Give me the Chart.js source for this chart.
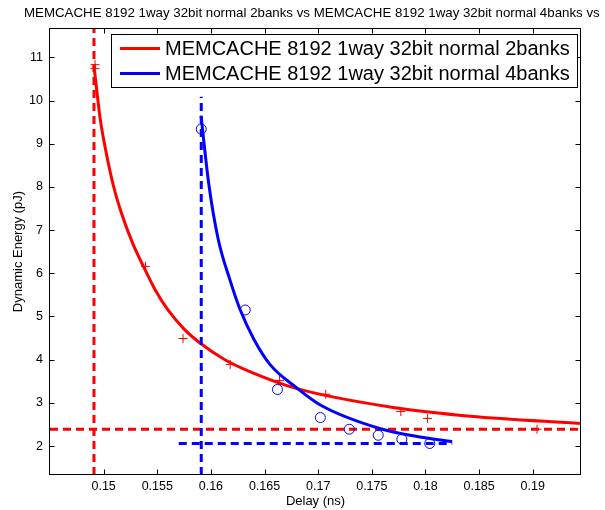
<!DOCTYPE html>
<html>
<head>
<meta charset="utf-8">
<script src="https://cdn.jsdelivr.net/npm/chart.js@4/dist/chart.umd.min.js"></script>
<style>
  html, body { margin: 0; padding: 0; background: #fff; }
  canvas { display: block; }
</style>
</head>
<body>
<canvas id="energychart" width="605" height="510"></canvas>
<script>
var titleText = "MEMCACHE 8192 1way 32bit normal 2banks vs MEMCACHE 8192 1way 32bit normal 4banks vs";
var seriesNames = ["MEMCACHE 8192 1way 32bit normal 2banks", "MEMCACHE 8192 1way 32bit normal 4banks"];
var xLabel = "Delay (ns)";
var yLabel = "Dynamic Energy (pJ)";

// measured points
var redDelay  = [0.1492, 0.1492, 0.1539, 0.1574, 0.1618, 0.1664, 0.1707, 0.1777, 0.1802, 0.1904];
var redEnergy = [10.83, 10.74, 6.16, 4.49, 3.89, 3.52, 3.20, 2.80, 2.64, 2.39];
var blueDelay  = [0.1591, 0.1632, 0.1662, 0.1702, 0.1729, 0.1756, 0.1778, 0.1804];
var blueEnergy = [9.34, 5.15, 3.31, 2.66, 2.39, 2.25, 2.16, 2.06];

// fitted curves
var redFitDelay  = [0.1491, 0.14969, 0.15025, 0.15093, 0.15172, 0.1527, 0.15373, 0.1548, 0.15591, 0.15746, 0.15902, 0.1613, 0.16368, 0.16803, 0.17736, 0.18419, 0.19454];
var redFitEnergy = [10.80, 9.56, 8.78, 8.01, 7.35, 6.70, 6.15, 5.62, 5.18, 4.72, 4.38, 4.00, 3.72, 3.33, 2.88, 2.69, 2.52];
var blueFitDelay  = [0.15908, 0.15979, 0.16067, 0.16181, 0.16274, 0.16399, 0.16554, 0.16788, 0.1702, 0.1758, 0.17922, 0.18249];
var blueFitEnergy = [9.65, 8.09, 6.80, 5.82, 5.15, 4.48, 3.88, 3.37, 2.95, 2.40, 2.22, 2.10];

// guide lines (min delay / min energy)
var redGuideDelay = 0.1491, redGuideEnergy = 2.39;
var blueGuideDelay = 0.1591, blueGuideEnergy = 2.06, blueGuideTop = 10.09;
var blueGuideLeft = 0.1570, blueGuideRight = 0.1825;

var xTicks = [0.15, 0.155, 0.16, 0.165, 0.17, 0.175, 0.18, 0.185, 0.19];
var yTicks = [2, 3, 4, 5, 6, 7, 8, 9, 10, 11];
var xMin = 0.145, xMax = 0.1945, yMin = 1.33, yMax = 11.68;

var fontFamily = "'Liberation Sans', Arial, Helvetica, sans-serif";

function toPoints(xs, ys) {
    return xs.map(function (x, i) { return { x: x, y: ys[i] }; });
}

function lineSet(label, pts, color, order, dash) {
    return {
        label: label,
        data: pts,
        showLine: true,
        borderColor: color,
        backgroundColor: color,
        borderWidth: 3,
        borderDash: dash || [],
        pointRadius: 0,
        fill: false,
        cubicInterpolationMode: dash ? 'default' : 'monotone',
        tension: 0,
        order: order
    };
}

function markerSet(pts, color, style, radius, order) {
    return {
        data: pts,
        showLine: false,
        borderColor: color,
        backgroundColor: 'rgba(0,0,0,0)',
        borderWidth: 1,
        pointStyle: style,
        pointRadius: radius,
        order: order
    };
}

var frame = {
    id: 'frame',
    afterDatasetsDraw: function (chart) {
        var ctx = chart.ctx, a = chart.chartArea;
        var l = Math.round(a.left) - 0.5, r = Math.round(a.right) - 0.5;
        var t = Math.round(a.top) + 0.5, b = Math.round(a.bottom) - 0.5;
        ctx.save();
        ctx.strokeStyle = '#000';
        ctx.lineWidth = 1;
        ctx.strokeRect(l, t, r - l, b - t);
        ctx.beginPath();
        chart.scales.x.ticks.forEach(function (tk) {
            var px = Math.round(chart.scales.x.getPixelForValue(tk.value)) + 0.5;
            ctx.moveTo(px, b); ctx.lineTo(px, b - 5);
            ctx.moveTo(px, t); ctx.lineTo(px, t + 5);
        });
        chart.scales.y.ticks.forEach(function (tk) {
            var py = Math.round(chart.scales.y.getPixelForValue(tk.value)) + 0.5;
            ctx.moveTo(l, py); ctx.lineTo(l + 5, py);
            ctx.moveTo(r, py); ctx.lineTo(r - 5, py);
        });
        ctx.stroke();

        // legend box
        var colors = [chart.data.datasets[0].borderColor, chart.data.datasets[1].borderColor];
        ctx.fillStyle = '#fff';
        ctx.fillRect(111.5, 34.5, 466, 53);
        ctx.strokeRect(111.5, 34.5, 466, 53);
        ctx.font = '20px ' + fontFamily;
        ctx.textBaseline = 'middle';
        ctx.textAlign = 'left';
        [48.5, 73.5].forEach(function (y, i) {
            ctx.strokeStyle = colors[i];
            ctx.lineWidth = 3;
            ctx.beginPath();
            ctx.moveTo(120, y); ctx.lineTo(160, y);
            ctx.stroke();
            ctx.fillStyle = '#000';
            ctx.fillText(chart.data.datasets[i].label, 165, y + 1);
        });

        // title and axis labels
        ctx.fillStyle = '#000';
        ctx.font = '13.3px ' + fontFamily;
        ctx.textBaseline = 'alphabetic';
        ctx.fillText(titleText, 24, 17);
        ctx.font = '13px ' + fontFamily;
        ctx.textAlign = 'center';
        ctx.textBaseline = 'middle';
        ctx.fillText(xLabel, (a.left + a.right) / 2, 501);
        ctx.translate(18.5, (a.top + a.bottom) / 2);
        ctx.rotate(-Math.PI / 2);
        ctx.fillText(yLabel, 0, 0);
        ctx.restore();
    }
};

new Chart("energychart", {
    type: "scatter",
    data: {
        datasets: [
            lineSet(seriesNames[0], toPoints(redFitDelay, redFitEnergy), "#ff0000", 5),
            lineSet(seriesNames[1], toPoints(blueFitDelay, blueFitEnergy), "#0000ff", 1),
            markerSet(toPoints(redDelay, redEnergy), "#ff0000", "cross", 4.5, 6),
            markerSet(toPoints(blueDelay, blueEnergy), "#0000ff", "circle", 5, 3),
            lineSet("", toPoints([redGuideDelay, redGuideDelay], [yMin, yMax]), "#ff0000", 4, [8, 5]),
            lineSet("", toPoints([xMin, xMax], [redGuideEnergy, redGuideEnergy]), "#ff0000", 4, [8, 5]),
            lineSet("", toPoints([blueGuideDelay, blueGuideDelay], [yMin, blueGuideTop]), "#0000ff", 2, [8, 5]),
            lineSet("", toPoints([blueGuideLeft, blueGuideRight], [blueGuideEnergy, blueGuideEnergy]), "#0000ff", 2, [8, 5])
        ]
    },
    options: {
        responsive: false,
        animation: false,
        devicePixelRatio: 1,
        events: [],
        layout: { padding: { top: 28, right: 24, left: 0, bottom: 0 } },
        plugins: {
            legend: { display: false },
            tooltip: { enabled: false },
            title: { display: false }
        },
        scales: {
            x: {
                type: "linear",
                min: xMin,
                max: xMax,
                grid: { display: false, drawTicks: false },
                border: { display: false },
                ticks: {
                    color: "#000",
                    font: { family: fontFamily, size: 12.5 },
                    padding: 4,
                    autoSkip: false,
                    maxRotation: 0,
                    callback: function (v) { return String(v); }
                },
                afterBuildTicks: function (s) { s.ticks = xTicks.map(function (v) { return { value: v }; }); },
                afterFit: function (s) { s.height = 35; }
            },
            y: {
                type: "linear",
                min: yMin,
                max: yMax,
                grid: { display: false, drawTicks: false },
                border: { display: false },
                ticks: {
                    color: "#000",
                    font: { family: fontFamily, size: 12.5 },
                    padding: 7,
                    autoSkip: false,
                    callback: function (v) { return String(v); }
                },
                afterBuildTicks: function (s) { s.ticks = yTicks.map(function (v) { return { value: v }; }); },
                afterFit: function (s) { s.width = 50; }
            }
        }
    },
    plugins: [frame]
});
</script>
</body>
</html>
